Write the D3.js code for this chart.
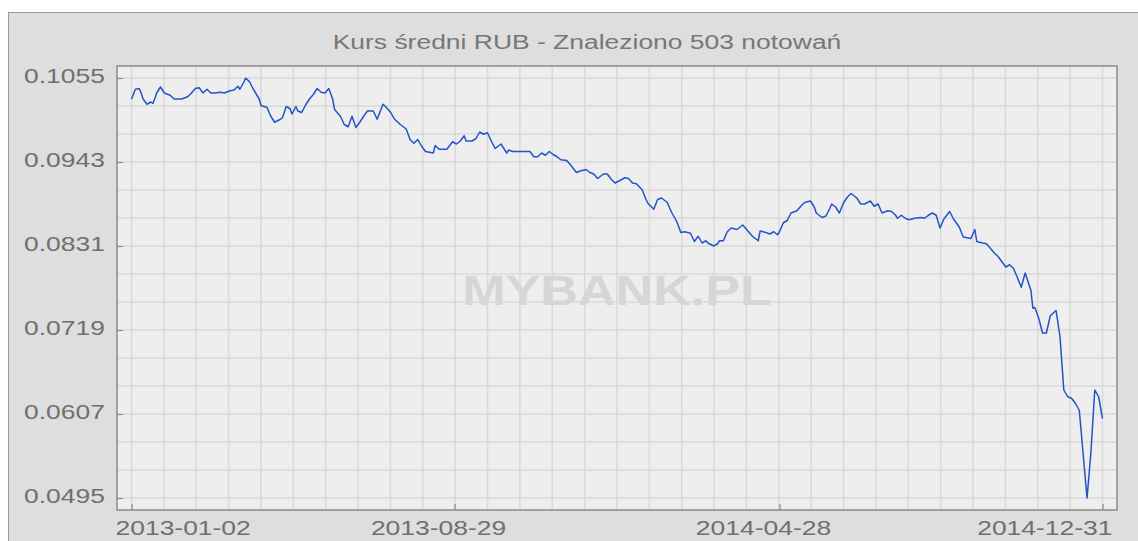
<!DOCTYPE html>
<html lang="pl">
<head>
<meta charset="utf-8">
<title>Kurs średni RUB</title>
<script src="https://cdn.jsdelivr.net/npm/d3@7"></script>
<style>
	body { margin: 0; background: #fff; }
	text { font-family: "Liberation Sans", Arial, sans-serif; fill: #6f6f6f; }
	.grid line { stroke: #d9d9d9; stroke-width: 1.5; }
	.axis path { display: none; }
	.axis line { stroke: #888; stroke-width: 1.2; }
	.rate { fill: none; stroke: #2254c8; stroke-width: 1.5; stroke-linejoin: round; }
</style>
</head>
<body>
<div id="vis"></div>
<script>
// numer notowania (0..502) i kurs sredni
var dayIndex = [0,2,4,5,6,8,10,11,12,13,15,17,20,22,26,29,31,33,35,37,39,41,43,46,48,51,53,55,56,58,59,61,63,66,67,70,72,74,77,78,80,82,83,85,86,88,90,92,94,96,98,100,102,104,105,108,110,112,114,116,118,120,122,125,127,130,132,134,136,139,142,144,146,148,150,152,154,156,157,159,161,163,166,168,170,172,173,176,178,180,182,184,186,188,191,192,194,195,197,201,206,208,210,212,214,216,218,220,222,225,227,230,232,235,237,239,241,244,246,248,250,253,255,257,259,261,264,266,267,270,272,274,277,279,282,284,286,289,291,293,295,297,298,301,303,304,306,308,310,313,316,318,321,324,325,328,330,332,334,335,337,339,341,344,346,348,351,353,354,357,359,361,362,364,366,368,370,372,375,377,379,382,384,386,388,391,393,395,396,398,400,402,405,408,410,412,414,416,418,420,423,425,428,430,432,434,436,437,440,442,444,446,448,452,454,456,458,460,462,465,466,467,469,471,473,475,478,480,482,484,486,488,490,494,496,498,500,502];
var rate = [0.1027,0.1040,0.1041,0.1035,0.1027,0.1020,0.1023,0.1021,0.1027,0.1035,0.1043,0.1035,0.1032,0.1027,0.1027,0.1030,0.1035,0.1041,0.1042,0.1035,0.1040,0.1035,0.1035,0.1036,0.1035,0.1038,0.1039,0.1044,0.1040,0.1049,0.1055,0.1050,0.1040,0.1027,0.1018,0.1016,0.1004,0.0996,0.1000,0.1002,0.1017,0.1014,0.1007,0.1017,0.1011,0.1009,0.1019,0.1027,0.1033,0.1041,0.1036,0.1035,0.1041,0.1027,0.1013,0.1004,0.0993,0.0990,0.1004,0.0989,0.0996,0.1004,0.1011,0.1011,0.1000,0.1020,0.1015,0.1009,0.1000,0.0993,0.0987,0.0973,0.0968,0.0973,0.0964,0.0957,0.0956,0.0955,0.0965,0.0960,0.0960,0.0960,0.0970,0.0967,0.0971,0.0978,0.0971,0.0971,0.0974,0.0983,0.0980,0.0982,0.0971,0.0961,0.0967,0.0963,0.0955,0.0959,0.0957,0.0957,0.0957,0.0950,0.0950,0.0955,0.0952,0.0957,0.0953,0.0950,0.0946,0.0945,0.0939,0.0929,0.0931,0.0933,0.0929,0.0927,0.0921,0.0927,0.0927,0.0920,0.0915,0.0919,0.0922,0.0921,0.0915,0.0914,0.0906,0.0893,0.0888,0.0880,0.0893,0.0895,0.0889,0.0877,0.0863,0.0849,0.0850,0.0848,0.0837,0.0844,0.0835,0.0838,0.0835,0.0831,0.0834,0.0838,0.0838,0.0850,0.0855,0.0853,0.0859,0.0853,0.0844,0.0838,0.0851,0.0849,0.0847,0.0850,0.0846,0.0850,0.0862,0.0865,0.0875,0.0878,0.0884,0.0889,0.0891,0.0883,0.0875,0.0869,0.0871,0.0881,0.0887,0.0883,0.0875,0.0888,0.0896,0.0901,0.0895,0.0887,0.0887,0.0891,0.0884,0.0887,0.0875,0.0878,0.0877,0.0872,0.0868,0.0872,0.0868,0.0866,0.0868,0.0869,0.0868,0.0872,0.0875,0.0872,0.0855,0.0867,0.0877,0.0867,0.0856,0.0843,0.0842,0.0841,0.0853,0.0837,0.0835,0.0834,0.0828,0.0822,0.0817,0.0803,0.0806,0.0801,0.0789,0.0776,0.0795,0.0772,0.0748,0.0749,0.0735,0.0715,0.0715,0.0738,0.0745,0.0711,0.0639,0.0630,0.0628,0.0621,0.0612,0.0495,0.0555,0.0639,0.0630,0.0601];

var rateTicks = [0.0495, 0.0607, 0.0719, 0.0831, 0.0943, 0.1055];
var tickIndex = [0, 167, 335, 502];
var tickDates = ["2013-01-02", "2013-08-29", "2014-04-28", "2014-12-31"];
var title = "Kurs średni RUB - Znaleziono 503 notowań";

var W = 1138, H = 541;
var box = {left: 117, top: 66, right: 1117, bottom: 510};
var stretch = "scale(1.26,1)"; // tekst w oryginale jest rozciagniety w poziomie

var data = dayIndex.map(function(d, i) { return {i: d, v: rate[i]}; });

var x = d3.scaleLinear().domain([-7.5, 509.5]).range([box.left, box.right]);
var y = d3.scaleLinear().domain([0.0479, 0.1071]).range([box.bottom, box.top]);

var svg = d3.select("#vis").append("svg").attr("width", W).attr("height", H);

// tlo panelu
svg.append("rect").attr("x", 8.5).attr("y", 12.5).attr("width", W + 20).attr("height", H)
	.attr("fill", "#dedede").attr("stroke", "#999");

svg.append("rect").attr("x", box.left).attr("y", box.top)
	.attr("width", box.right - box.left).attr("height", box.bottom - box.top)
	.attr("fill", "#eeeeee");

// siatka: 10 linii na odstep miedzy datami, 3 na odstep kursu
var gridX = d3.range(0, 30.5).map(function(k) { return k * 502 / 30; });
var stepY = (rateTicks[1] - rateTicks[0]) / 3;
var gridY = d3.range(0, 16).map(function(k) { return rateTicks[0] + k * stepY; });

var grid = svg.append("g").attr("class", "grid");
grid.selectAll("line.vx").data(gridX).enter().append("line").attr("class", "vx")
	.attr("x1", function(d) { return x(d); }).attr("x2", function(d) { return x(d); })
	.attr("y1", box.top).attr("y2", box.bottom);
grid.selectAll("line.hy").data(gridY).enter().append("line").attr("class", "hy")
	.attr("x1", box.left).attr("x2", box.right)
	.attr("y1", function(d) { return y(d); }).attr("y2", function(d) { return y(d); });

// znak wodny
svg.append("text").attr("transform", "translate(617,305) scale(1.24,1)")
	.attr("text-anchor", "middle").style("font-size", "42px").style("font-weight", "bold")
	.style("fill", "#d6d6d6").text("MYBANK.PL");

// kreski osi do srodka
svg.append("g").attr("class", "axis").attr("transform", "translate(" + box.left + ",0)")
	.call(d3.axisLeft(y).tickValues(rateTicks).tickSize(-6).tickFormat(""));
svg.append("g").attr("class", "axis").attr("transform", "translate(0," + box.bottom + ")")
	.call(d3.axisBottom(x).tickValues(tickIndex).tickSize(-6).tickFormat(""));

svg.append("rect").attr("x", box.left).attr("y", box.top)
	.attr("width", box.right - box.left).attr("height", box.bottom - box.top)
	.attr("fill", "none").attr("stroke", "#8a8a8a").attr("stroke-width", 1.5);

var line = d3.line().x(function(d) { return x(d.i); }).y(function(d) { return y(d.v); });
svg.append("path").datum(data).attr("class", "rate").attr("d", line);

// opisy
svg.selectAll("text.ylab").data(rateTicks).enter().append("text").attr("class", "ylab")
	.attr("transform", function(d) { return "translate(24," + (y(d) + 5) + ") " + stretch; })
	.style("font-size", "21px").text(function(d) { return d.toFixed(4); });

svg.selectAll("text.xlab").data(tickIndex).enter().append("text").attr("class", "xlab")
	.attr("text-anchor", function(d, i) { return i == 0 ? "start" : (i == tickIndex.length - 1 ? "end" : "middle"); })
	.attr("transform", function(d, i) {
		var px = x(d) - 16;
		if (i == tickIndex.length - 1) px = x(d) + 10;
		return "translate(" + px + ",535) " + stretch;
	})
	.style("font-size", "21px").text(function(d, i) { return tickDates[i]; });

svg.append("text").attr("transform", "translate(587,49) " + stretch)
	.attr("text-anchor", "middle").style("font-size", "21px").style("fill", "#777")
	.text(title);
</script>
</body>
</html>
